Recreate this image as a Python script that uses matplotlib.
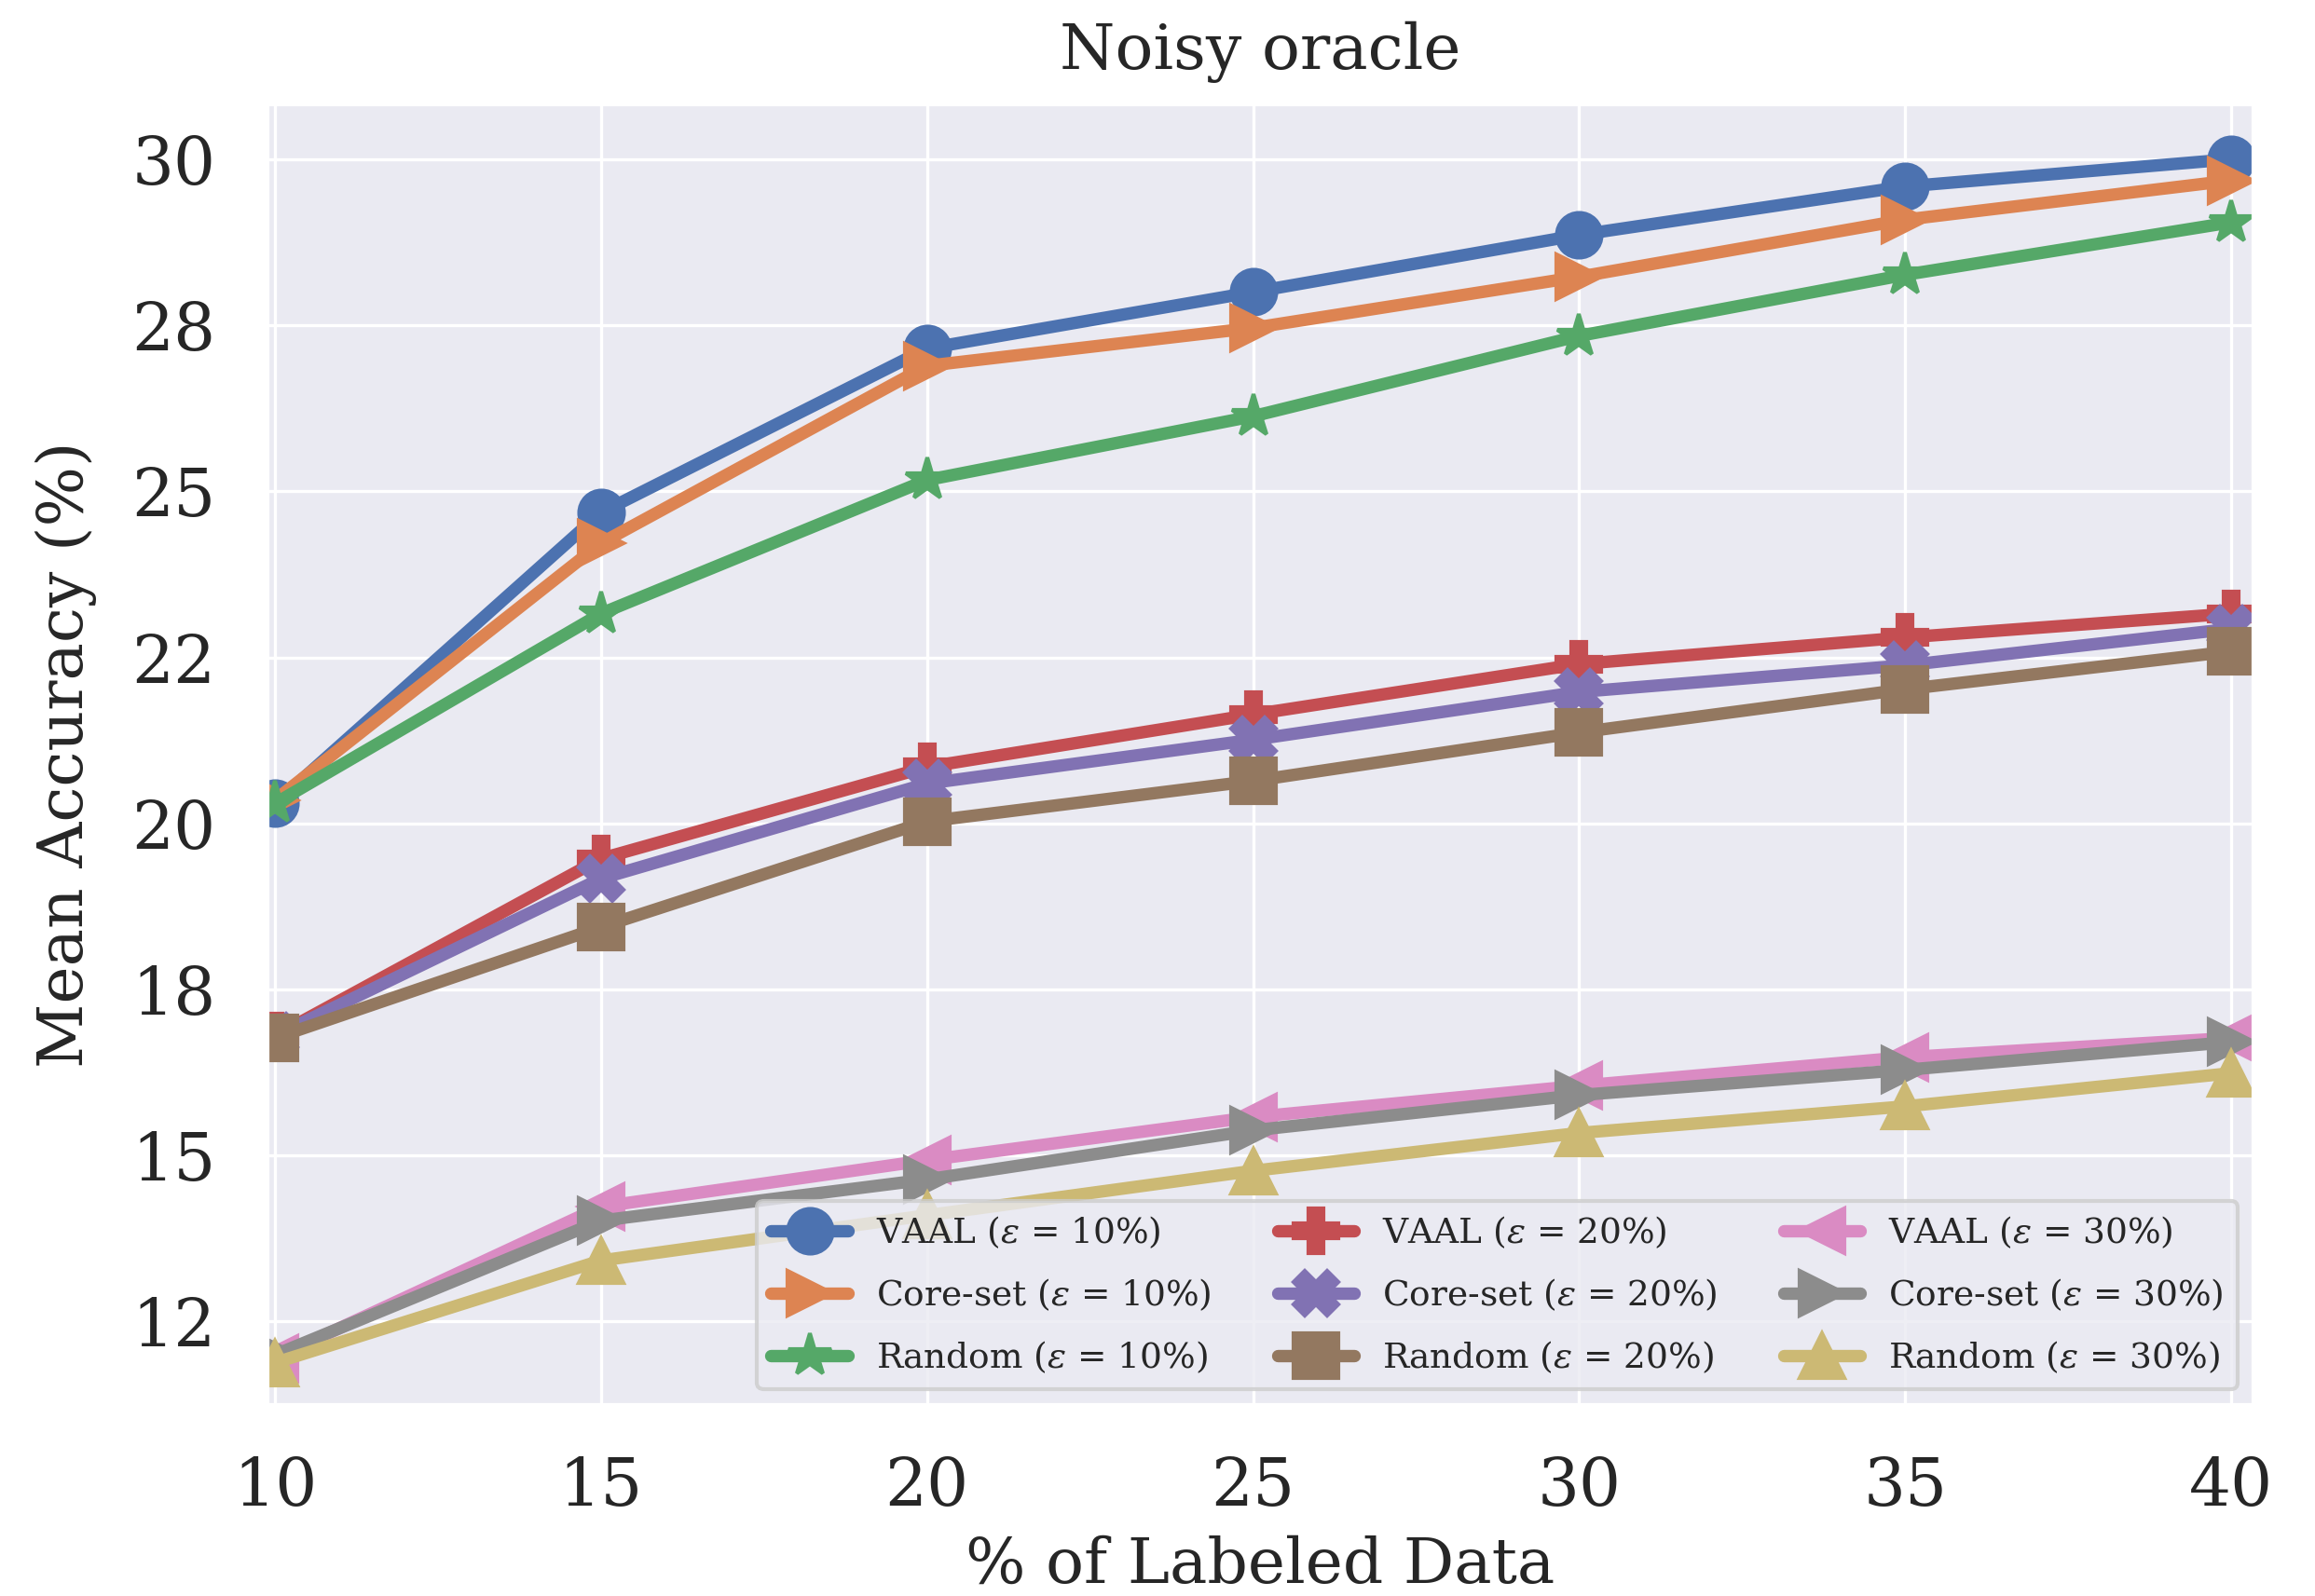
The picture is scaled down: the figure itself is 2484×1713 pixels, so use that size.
import matplotlib.pyplot as plt
import seaborn as sns
from matplotlib.ticker import StrMethodFormatter

sns.set_theme(style="darkgrid", palette="deep")
plt.rcParams["font.family"] = ["DejaVu Serif"]
plt.rcParams["mathtext.fontset"] = "dejavuserif"

labeled = [10, 15, 20, 25, 30, 35, 40]

vaal_10 = [20.30, 24.68, 27.15, 28.00, 28.86, 29.59, 30.00]
coreset_10 = [20.35, 24.22, 26.89, 27.46, 28.23, 29.09, 29.68]
random_10 = [20.30, 23.16, 25.17, 26.13, 27.34, 28.26, 29.05]

vaal_20 = [16.80, 19.47, 20.85, 21.64, 22.40, 22.80, 23.16]
coreset_20 = [16.80, 19.17, 20.60, 21.26, 21.98, 22.38, 22.93]
random_20 = [16.77, 18.44, 20.03, 20.64, 21.37, 22.02, 22.59]

vaal_30 = [11.95, 14.23, 14.93, 15.58, 16.05, 16.48, 16.77]
coreset_30 = [12.00, 14.02, 14.64, 15.38, 15.91, 16.29, 16.71]
random_30 = [11.88, 13.42, 14.10, 14.77, 15.34, 15.74, 16.24]

series = [
    ("VAAL", "10", vaal_10, "o"),
    ("Core-set", "10", coreset_10, ">"),
    ("Random", "10", random_10, "*"),
    ("VAAL", "20", vaal_20, "P"),
    ("Core-set", "20", coreset_20, "X"),
    ("Random", "20", random_20, "s"),
    ("VAAL", "30", vaal_30, "<"),
    ("Core-set", "30", coreset_30, ">"),
    ("Random", "30", random_30, "^"),
]

colors = sns.color_palette("deep", 9)

fig = plt.figure(figsize=(8.28, 5.71), dpi=300)
ax = fig.add_axes([0.1151, 0.1197, 0.8583, 0.8155])

for (name, eps, vals, marker), c in zip(series, colors):
    ax.plot(labeled, vals, marker=marker, color=c, lw=3.2, ms=11.5,
            label=rf"{name} ($\varepsilon$ = {eps}%)")

ax.set_xlim(9.87, 40.34)
ax.set_ylim(11.245, 30.84)
ax.set_xticks(labeled)
ax.set_yticks([12.5, 15, 17.5, 20, 22.5, 25, 27.5, 30])
ax.yaxis.set_major_formatter(StrMethodFormatter("{x:.0f}"))
ax.tick_params(axis="both", labelsize=17, pad=13, length=0)
ax.grid(color="white", lw=0.8)

ax.set_title("Noisy oracle", fontsize=16.3, pad=9)
ax.set_xlabel("% of Labeled Data", fontsize=16.3, labelpad=4)
ax.set_ylabel("Mean Accuracy (%)", fontsize=16.3, labelpad=9)

ax.legend(loc="lower right", ncol=3, fontsize=9, handlelength=2.2,
          borderaxespad=0.45, columnspacing=1.9, labelspacing=0.75,
          numpoints=1, framealpha=0.8, edgecolor="0.8")

fig.savefig("out.png", dpi=300)
